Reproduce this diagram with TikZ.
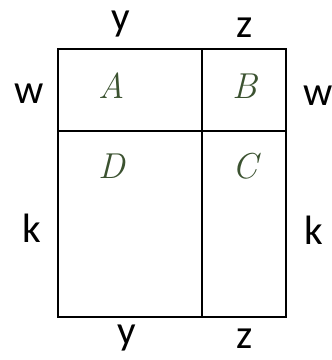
\documentclass[tikz,border=0pt]{standalone}
\usepackage{fontspec}
\setsansfont{Carlito}
\usepackage{xcolor}
\definecolor{CellGreen}{HTML}{3B5230}
\usetikzlibrary{positioning}

\tikzset{
  sidelabel/.style={font=\sffamily\fontsize{41}{43}\selectfont, inner sep=0pt},
  cellname/.style={font=\rmfamily\itshape\fontsize{36}{38}\selectfont, text=CellGreen, inner sep=0pt},
  edge/.style={line width=1.5pt}
}

\begin{document}
\begin{tikzpicture}[x=1pt, y=-1pt]
        \useasboundingbox (0,0) rectangle (332,360);
        % corners of the big rectangle and the two dividers
        \coordinate (nw) at (58,49);
        \coordinate (ne) at (286,49);
        \coordinate (sw) at (58,317);
        \coordinate (se) at (286,317);
        \coordinate (mt) at (202,49);
        \coordinate (mb) at (202,317);
        \coordinate (ml) at (58,131);
        \coordinate (mr) at (286,131);
        \draw[edge] (nw) -- (ne) -- (se) -- (sw) -- cycle;
        \draw[edge] (mt) -- (mb);
        \draw[edge] (ml) -- (mr);
        % cell names
        \node[cellname] (cA) at (112,86) {A};
        \node[cellname] (cB) at (245,86) {B};
        \node[cellname] (cD) at (112,166) {D};
        \node[cellname] (cC) at (245,166) {C};
        % side lengths
        \node[sidelabel] (ytop) at (121,24) {y};
        \node[sidelabel] (ztop) at (245,28) {z};
        \node[sidelabel] (wleft) at (29,94) {w};
        \node[sidelabel] (wright) at (318,96) {w};
        \node[sidelabel] (kleft) at (32,228) {k};
        \node[sidelabel] (kright) at (314,230) {k};
        \node[sidelabel] (ybot) at (127,338) {y};
        \node[sidelabel] (zbot) at (245,339) {z};
\end{tikzpicture}
\end{document}
